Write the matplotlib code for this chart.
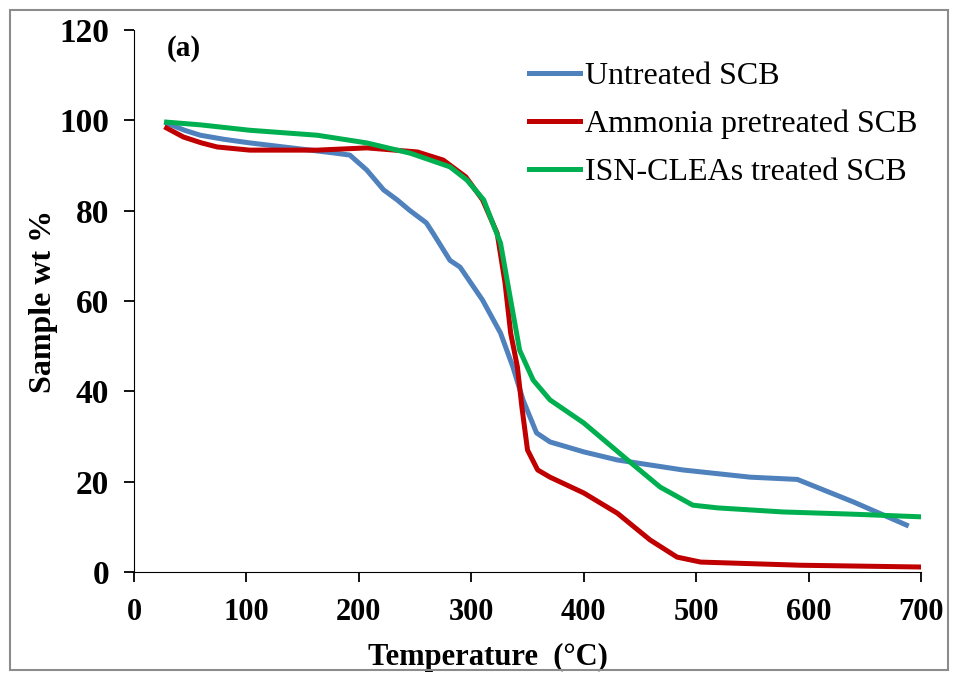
import numpy as np
import matplotlib
matplotlib.use("Agg")
import matplotlib.pyplot as plt
from matplotlib.patches import Rectangle

plt.rcParams["font.family"] = ["Liberation Serif", "DejaVu Serif"]

# untreated SCB
t_untreated = [29, 45, 59, 80, 103, 140, 177, 192, 207, 222, 234, 245, 260, 266, 281, 290,
               310, 326, 337, 346, 358, 370, 400, 430, 488, 548, 590, 595, 640, 687]
w_untreated = [99.4, 97.8, 96.7, 95.8, 95.0, 93.9, 92.8, 92.3, 89.0, 84.6, 82.4, 80.1, 77.3,
               75.0, 69.0, 67.5, 60.2, 52.9, 45.4, 38.1, 30.8, 28.8, 26.6, 24.8, 22.6, 21.0,
               20.5, 20.0, 15.5, 10.4]

# ammonia pretreated SCB
t_ammonia = [29, 44, 60, 74, 103, 163, 207, 252, 275, 295, 310, 323, 330, 335, 341, 345,
             350, 359, 370, 400, 430, 459, 483, 504, 593, 702]
w_ammonia = [98.3, 96.3, 95.0, 94.1, 93.4, 93.4, 93.9, 93.0, 91.2, 87.5, 82.4, 75.0, 64.0,
             52.9, 45.4, 36.5, 27.0, 22.6, 21.0, 17.5, 13.0, 7.1, 3.3, 2.2, 1.5, 1.1]

# ISN-CLEAs treated SCB
t_clea = [29, 59, 103, 163, 207, 246, 281, 296, 311, 326, 335, 343, 355, 370, 400, 439,
          468, 497, 519, 577, 640, 702]
w_clea = [99.6, 99.0, 97.8, 96.7, 95.0, 92.7, 89.7, 86.8, 82.4, 72.8, 60.2, 49.1, 42.5,
          38.1, 33.0, 24.8, 18.8, 14.8, 14.2, 13.3, 12.8, 12.2]

fig = plt.figure(figsize=(9.58, 6.8), dpi=100)
fig.patches.append(Rectangle((0.01, 0.015), 0.98, 0.97, transform=fig.transFigure,
                             fill=False, edgecolor="#8c8c8c", linewidth=1.5))
ax = fig.add_axes([0.1399, 0.1588, 0.8215, 0.7971])

ax.plot(t_untreated, w_untreated, color="#4F81BD", lw=3.6, label="Untreated SCB")
ax.plot(t_ammonia, w_ammonia, color="#C00000", lw=3.6, label="Ammonia pretreated SCB")
ax.plot(t_clea, w_clea, color="#00B050", lw=3.6, label="ISN-CLEAs treated SCB")

ax.set_xlim(0, 700)
ax.set_ylim(0, 120)
ax.set_xticks(np.arange(0, 701, 100))
ax.set_yticks(np.arange(0, 121, 20))
ax.spines["top"].set_visible(False)
ax.spines["right"].set_visible(False)
ax.tick_params(direction="out", length=7, width=1.3)
ax.tick_params(axis="x", labelsize=22, pad=12)
ax.tick_params(axis="y", labelsize=24, pad=11)
for lab in ax.get_xticklabels() + ax.get_yticklabels():
    lab.set_fontweight("bold")

ax.set_xlabel("Temperature  (\u00b0C)", fontsize=22, fontweight="bold")
ax.xaxis.set_label_coords(0.45, -0.13)
ax.set_ylabel("Sample wt %", fontsize=23, fontweight="bold", labelpad=1)
ax.text(0.042, 0.99, "(a)", transform=ax.transAxes, fontsize=21, fontweight="bold",
        va="top")

ax.legend(loc="upper right", frameon=False, fontsize=23, handlelength=1.6,
          handletextpad=0.15, labelspacing=0.58, bbox_to_anchor=(1.032, 0.995))

fig.savefig("out.png", dpi=100)
